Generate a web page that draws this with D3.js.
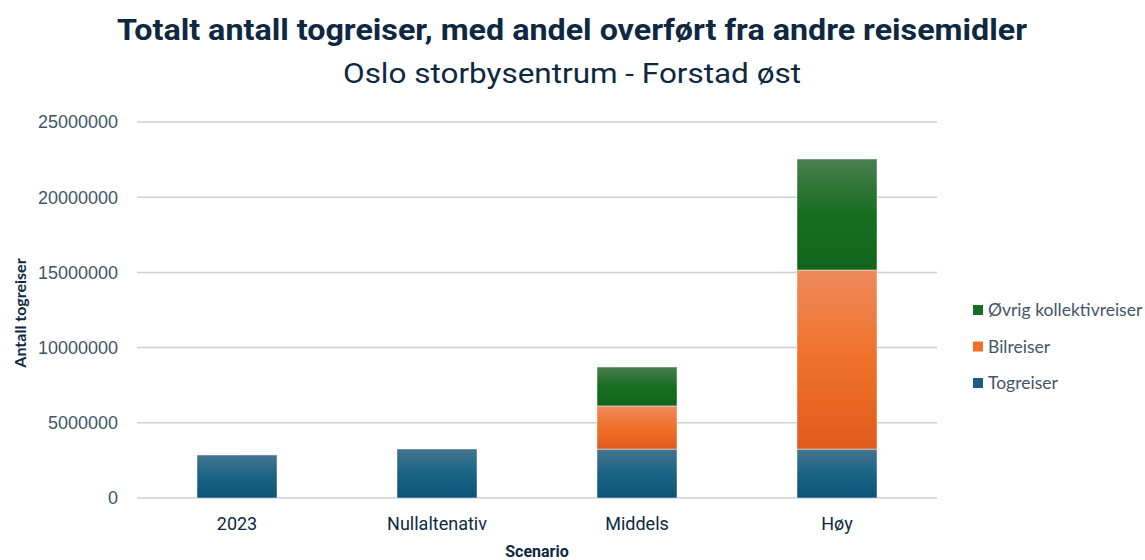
<!DOCTYPE html>
<html>
<head>
<meta charset="utf-8">
<script src="https://cdn.jsdelivr.net/npm/d3@7"></script>
<style>
  body { margin: 0; background: #fff; }
  svg { display: block; }
</style>
</head>
<body>
<div id="chart"></div>
<script>
// Data
const categories = ['2023', 'Nullaltenativ', 'Middels', 'Høy'];
const togreiser  = [2860000, 3260000, 3250000, 3250000];
const bilreiser  = [0, 0, 2870000, 11910000];
const ovrigKoll  = [0, 0, 2590000, 7380000];
const seriesNames = ['Togreiser', 'Bilreiser', 'Øvrig kollektivreiser'];
const yTicks = [0, 5000000, 10000000, 15000000, 20000000, 25000000];

const W = 1145, H = 560;
const margin = { left: 137, right: 208, top: 122, bottom: 62 };
const textColor = '#44546a';
const titleColor = '#0e2841';
const sans = 'Roboto, "Liberation Sans", sans-serif';

const rows = categories.map((c, i) => ({
    cat: c,
    Togreiser: togreiser[i],
    Bilreiser: bilreiser[i],
    'Øvrig kollektivreiser': ovrigKoll[i]
}));
const stacked = d3.stack().keys(seriesNames)(rows);

const svg = d3.select('#chart').append('svg')
    .attr('width', W).attr('height', H);

// Gradients (lighter at top, like the original bevel fill)
const gradStops = {
    Togreiser:  ['#44748f', '#1a6485', '#0b5479'],
    Bilreiser:  ['#ee8a5c', '#f07029', '#df5b1b'],
    'Øvrig kollektivreiser': ['#4b7e50', '#166e1f', '#12651b']
};
const legendColor = {
    Togreiser: '#1b5e82',
    Bilreiser: '#f07029',
    'Øvrig kollektivreiser': '#166e1f'
};
const defs = svg.append('defs');
seriesNames.forEach((s, i) => {
    const g = defs.append('linearGradient')
        .attr('id', 'grad' + i)
        .attr('x1', 0).attr('y1', 0).attr('x2', 0).attr('y2', 1);
    g.append('stop').attr('offset', '0%').attr('stop-color', gradStops[s][0]);
    g.append('stop').attr('offset', '50%').attr('stop-color', gradStops[s][1]);
    g.append('stop').attr('offset', '100%').attr('stop-color', gradStops[s][2]);
});

const x = d3.scaleBand()
    .domain(categories)
    .range([margin.left, W - margin.right])
    .paddingInner(0.6).paddingOuter(0.3);

const y = d3.scaleLinear()
    .domain([0, 25000000])
    .range([H - margin.bottom, margin.top]);

// Gridlines
svg.append('g')
    .selectAll('line')
    .data(yTicks)
    .join('line')
    .attr('x1', margin.left).attr('x2', W - margin.right)
    .attr('y1', d => y(d)).attr('y2', d => y(d))
    .attr('stroke', '#d0d0d0')
    .attr('stroke-width', 1.5);

// Y tick labels
svg.append('g')
    .selectAll('text')
    .data(yTicks)
    .join('text')
    .attr('x', 118)
    .attr('y', d => y(d))
    .attr('dy', '0.35em')
    .attr('text-anchor', 'end')
    .attr('font-family', '"Liberation Sans", Arial, sans-serif')
    .attr('font-size', '18px')
    .attr('fill', textColor)
    .text(d => d3.format('d')(d));

// Bars
svg.append('g')
    .selectAll('g')
    .data(stacked)
    .join('g')
    .attr('fill', (d, i) => `url(#grad${i})`)
    .selectAll('rect')
    .data(d => d.filter(p => p[1] - p[0] > 0))
    .join('rect')
    .attr('x', d => x(d.data.cat))
    .attr('width', x.bandwidth())
    .attr('y', d => y(d[1]))
    .attr('height', d => y(d[0]) - y(d[1]))
    .attr('stroke', 'rgba(255,255,255,0.45)')
    .attr('stroke-width', 1);

// Category labels
svg.append('g')
    .selectAll('text')
    .data(categories)
    .join('text')
    .attr('x', d => x(d) + x.bandwidth() / 2)
    .attr('y', 524)
    .attr('dy', '0.35em')
    .attr('text-anchor', 'middle')
    .attr('font-family', sans)
    .attr('font-size', '18px')
    .attr('fill', titleColor)
    .text(d => d);

// Axis titles
svg.append('text')
    .attr('x', (margin.left + W - margin.right) / 2)
    .attr('y', 551)
    .attr('dy', '0.35em')
    .attr('text-anchor', 'middle')
    .attr('font-family', sans)
    .attr('font-weight', 'bold')
    .attr('font-size', '16px')
    .attr('fill', titleColor)
    .text('Scenario');

svg.append('text')
    .attr('transform', 'translate(20,313) rotate(-90)')
    .attr('dy', '0.35em')
    .attr('text-anchor', 'middle')
    .attr('font-family', 'Lato, "Open Sans", sans-serif')
    .attr('font-weight', 'bold')
    .attr('font-size', '16px')
    .attr('fill', titleColor)
    .text('Antall togreiser');

// Titles
svg.append('text')
    .attr('x', 572).attr('y', 30)
    .attr('dy', '0.35em')
    .attr('text-anchor', 'middle')
    .attr('font-family', sans)
    .attr('font-weight', 'bold')
    .attr('font-size', '29px')
    .attr('textLength', 910)
    .attr('lengthAdjust', 'spacingAndGlyphs')
    .attr('fill', titleColor)
    .text('Totalt antall togreiser, med andel overført fra andre reisemidler');

svg.append('text')
    .attr('x', 572).attr('y', 73)
    .attr('dy', '0.35em')
    .attr('text-anchor', 'middle')
    .attr('font-family', sans)
    .attr('font-size', '28px')
    .attr('textLength', 458)
    .attr('lengthAdjust', 'spacingAndGlyphs')
    .attr('fill', titleColor)
    .text('Oslo storbysentrum - Forstad øst');

// Legend (reverse order, top = last series)
const legendItems = seriesNames.slice().reverse();
const legend = svg.append('g')
    .selectAll('g')
    .data(legendItems)
    .join('g')
    .attr('transform', (d, i) => `translate(973,${310 + i * 36.5})`);
legend.append('rect')
    .attr('x', 0).attr('y', -5)
    .attr('width', 10).attr('height', 10)
    .attr('fill', d => legendColor[d]);
legend.append('text')
    .attr('x', 15)
    .attr('dy', '0.35em')
    .attr('font-family', 'Lato, "Open Sans", sans-serif')
    .attr('font-size', '17.5px')
    .attr('fill', textColor)
    .text(d => d);
</script>
</body>
</html>
